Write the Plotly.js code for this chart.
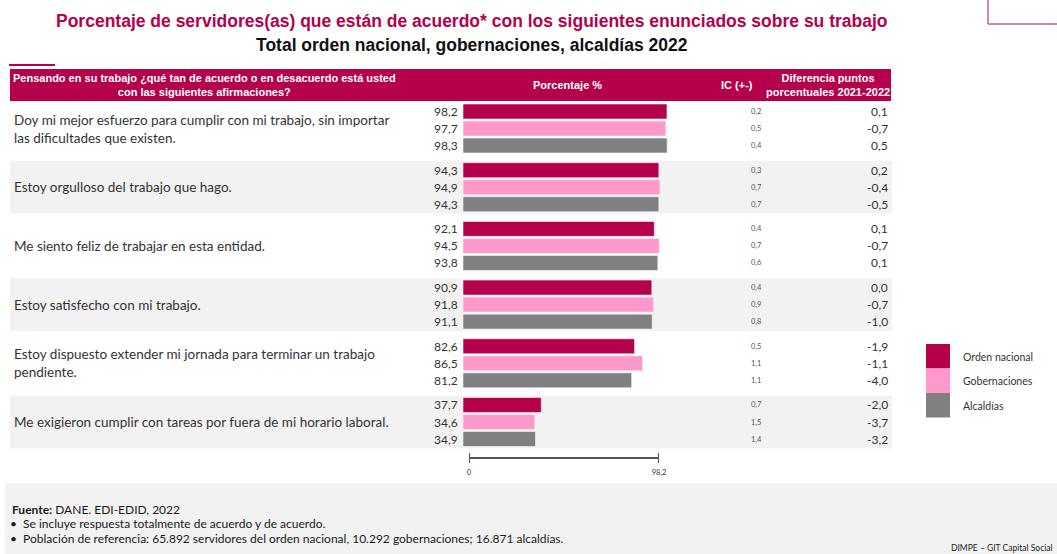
<!DOCTYPE html>
<html>
<head>
<meta charset="utf-8">
<script src="https://cdn.plot.ly/plotly-3.0.1.min.js"></script>
<style>
html,body{margin:0;padding:0;background:#fff;}
#chart{width:1057px;height:554px;}
</style>
</head>
<body>
<div id="chart"></div>
<script>
// ---------------- DATA ----------------
const statements = [
  "Doy mi mejor esfuerzo para cumplir con mi trabajo, sin importar<br>las dificultades que existen.",
  "Estoy orgulloso del trabajo que hago.",
  "Me siento feliz de trabajar en esta entidad.",
  "Estoy satisfecho con mi trabajo.",
  "Estoy dispuesto extender mi jornada para terminar un trabajo<br>pendiente.",
  "Me exigieron cumplir con tareas por fuera de mi horario laboral."
];
const seriesNames = ["Orden nacional", "Gobernaciones", "Alcaldías"];
const ordenNacional = [98.2, 94.3, 92.1, 90.9, 82.6, 37.7];
const gobernaciones = [97.7, 94.9, 94.5, 91.8, 86.5, 34.6];
const alcaldias     = [98.3, 94.3, 93.8, 91.1, 81.2, 34.9];
const icOrden = [0.2, 0.3, 0.4, 0.4, 0.5, 0.7];
const icGober = [0.5, 0.7, 0.7, 0.9, 1.1, 1.5];
const icAlcal = [0.4, 0.7, 0.6, 0.8, 1.1, 1.4];
const difOrden = [0.1, 0.2, 0.1, 0.0, -1.9, -2.0];
const difGober = [-0.7, -0.4, -0.7, -0.7, -1.1, -3.7];
const difAlcal = [0.5, -0.5, 0.1, -1.0, -4.0, -3.2];
const scaleTicks = [0, 98.2];
const scaleTickText = ["0", "98,2"];

const headerTexts = {
  question: "Pensando en su trabajo ¿qué tan de acuerdo o en desacuerdo está usted<br>con las siguientes afirmaciones?",
  pct: "Porcentaje %",
  ic: "IC (+-)",
  dif: "Diferencia puntos<br>porcentuales 2021-2022"
};
const titleLine1 = "Porcentaje de servidores(as) que están de acuerdo* con los siguientes enunciados sobre su trabajo";
const titleLine2 = "Total orden nacional, gobernaciones, alcaldías 2022";

// ---------------- STYLE ----------------
const W = 1057, H = 554;
const colors = ["#B5004B", "#FF99CC", "#808080"];
const crimson = "#B5004B";
const bandGray = "#F2F2F2";
const textDark = "#333333";
const bodyFont = "Lato, 'Open Sans', sans-serif";
const narrowFont = "'Liberation Sans Narrow', 'Liberation Sans', sans-serif";
const px = v => v / W;          // paper x from pixel
const py = v => 1 - v / H;      // paper y from pixel

const bargap = 0.13, bargroupgap = 0.12;
const slot = (1 - bargap) / 3;

const values = [ordenNacional, gobernaciones, alcaldias];
const ics = [icOrden, icGober, icAlcal];
const difs = [difOrden, difGober, difAlcal];
const fmt = v => v.toFixed(1).replace(".", ",");

const traces = values.map((vals, k) => ({
  type: "bar",
  orientation: "h",
  name: seriesNames[k],
  x: vals,
  y: statements,
  marker: { color: colors[k], line: { color: "rgba(255,255,255,0.55)", width: 1 } },
  hoverinfo: "x+name",
  showlegend: false
}));
// scale bar axis trace (invisible, just to draw xaxis2)
traces.push({
  type: "scatter", mode: "none", x: scaleTicks, y: [statements[0], statements[0]],
  xaxis: "x2", yaxis: "y", hoverinfo: "skip", showlegend: false
});

const annotations = [];
const shapes = [];

// titles
annotations.push({ xref: "paper", yref: "paper", x: px(472), y: py(21), xanchor: "center", yanchor: "middle", showarrow: false,
  text: "<b>" + titleLine1 + "</b>", font: { family: narrowFont, size: 17.5, color: crimson } });
annotations.push({ xref: "paper", yref: "paper", x: px(472), y: py(45), xanchor: "center", yanchor: "middle", showarrow: false,
  text: "<b>" + titleLine2 + "</b>", font: { family: narrowFont, size: 17.5, color: "#111111" } });

// alternating gray bands (rows 2,4,6)
statements.forEach((s, i) => {
  if (i % 2 === 1) {
    shapes.push({
      type: "rect", xref: "paper", yref: "y", layer: "below",
      x0: px(10), x1: px(892), y0: i - 0.45, y1: i + 0.45,
      fillcolor: bandGray, line: { width: 0 }
    });
  }
  annotations.push({
    xref: "paper", yref: "y", x: px(12), y: i, xanchor: "left", yanchor: "middle",
    align: "left", text: s, showarrow: false,
    font: { family: bodyFont, size: 13.5, color: textDark }
  });
  for (let k = 0; k < 3; k++) {
    const yy = i + (k - 1) * slot;
    annotations.push({
      xref: "x", yref: "y", x: 0, y: yy, xanchor: "right", yanchor: "middle", xshift: -3,
      text: fmt(values[k][i]), showarrow: false,
      font: { family: bodyFont, size: 12, color: textDark }
    });
    annotations.push({
      xref: "paper", yref: "y", x: px(749), y: yy, xanchor: "left", yanchor: "middle",
      text: fmt(ics[k][i]), showarrow: false,
      font: { family: bodyFont, size: 7.5, color: "#555555" }
    });
    annotations.push({
      xref: "paper", yref: "y", x: px(890), y: yy, xanchor: "right", yanchor: "middle",
      text: fmt(difs[k][i]), showarrow: false,
      font: { family: bodyFont, size: 12, color: textDark }
    });
  }
});

// header band
shapes.push({ type: "rect", xref: "paper", yref: "paper", x0: px(10), x1: px(891), y0: py(101), y1: py(69), fillcolor: crimson, line: { width: 0 } });
shapes.push({ type: "rect", xref: "paper", yref: "paper", x0: px(9), x1: px(55), y0: py(66), y1: py(64), fillcolor: crimson, line: { width: 0 } });
const hdrFont = { family: narrowFont, size: 11, color: "#ffffff" };
annotations.push({ xref: "paper", yref: "paper", x: px(204), y: py(85), xanchor: "center", yanchor: "middle", text: "<b>" + headerTexts.question + "</b>", showarrow: false, font: hdrFont, align: "center" });
annotations.push({ xref: "paper", yref: "paper", x: px(567), y: py(85), xanchor: "center", yanchor: "middle", text: "<b>" + headerTexts.pct + "</b>", showarrow: false, font: hdrFont });
annotations.push({ xref: "paper", yref: "paper", x: px(737), y: py(85), xanchor: "center", yanchor: "middle", text: "<b>" + headerTexts.ic + "</b>", showarrow: false, font: hdrFont });
annotations.push({ xref: "paper", yref: "paper", x: px(828), y: py(85), xanchor: "center", yanchor: "middle", text: "<b>" + headerTexts.dif + "</b>", showarrow: false, font: hdrFont, align: "center" });

// legend (manual squares)
seriesNames.forEach((n, k) => {
  const top = 344 + k * 24.5;
  shapes.push({ type: "rect", xref: "paper", yref: "paper", x0: px(926), x1: px(950), y0: py(top + 24.5), y1: py(top), fillcolor: colors[k], line: { width: 0 } });
  annotations.push({ xref: "paper", yref: "paper", x: px(961), y: py(top + 12.5), xanchor: "left", yanchor: "middle", text: n, showarrow: false, font: { family: bodyFont, size: 10.5, color: textDark } });
});

// scale bar end ticks
scaleTicks.forEach(t => {
  shapes.push({ type: "line", xref: "x2", yref: "paper", x0: t, x1: t, y0: py(463), y1: py(453), line: { color: "#555555", width: 2 } });
});

// footer band
shapes.push({ type: "rect", xref: "paper", yref: "paper", x0: px(5), x1: 1, y0: 0, y1: py(483), fillcolor: bandGray, line: { width: 0 }, layer: "below" });
const footFont = { family: bodyFont, size: 12, color: "#1a1a1a" };
annotations.push({ xref: "paper", yref: "paper", x: px(10), y: py(509), xanchor: "left", yanchor: "middle", text: "<b>Fuente:</b> DANE. EDI-EDID, 2022", showarrow: false, font: footFont });
annotations.push({ xref: "paper", yref: "paper", x: px(8), y: py(523), xanchor: "left", yanchor: "middle", text: "•  Se incluye respuesta totalmente de acuerdo y de acuerdo.", showarrow: false, font: footFont });
annotations.push({ xref: "paper", yref: "paper", x: px(8), y: py(538), xanchor: "left", yanchor: "middle", text: "•  Población de referencia: 65.892 servidores del orden nacional, 10.292 gobernaciones; 16.871 alcaldías.", showarrow: false, font: footFont });
annotations.push({ xref: "paper", yref: "paper", x: px(1054), y: py(548), xanchor: "right", yanchor: "middle", text: "DIMPE – GIT Capital Social", showarrow: false, font: { family: bodyFont, size: 8.5, color: "#1a1a1a" } });

// top right corner decoration
shapes.push({ type: "line", xref: "paper", yref: "paper", x0: px(988), x1: px(988), y0: py(0), y1: py(24), line: { color: "#C0609A", width: 1.5 } });
shapes.push({ type: "line", xref: "paper", yref: "paper", x0: px(988), x1: 1, y0: py(24), y1: py(24), line: { color: "#C0609A", width: 1.5 } });

const layout = {
  width: W, height: H,
  margin: { l: 0, r: 0, t: 0, b: 0 },
  paper_bgcolor: "#ffffff", plot_bgcolor: "rgba(0,0,0,0)",
  separators: ",.",
  barmode: "group", bargap: bargap, bargroupgap: bargroupgap,
  xaxis: {
    domain: [px(463), px(670.7)], range: [0, 100],
    showgrid: false, zeroline: false, showline: false, showticklabels: false, ticks: "", fixedrange: true
  },
  xaxis2: {
    anchor: "free", position: py(458),
    domain: [px(469), px(659)], range: [0, 98.2],
    tickvals: scaleTicks, ticktext: scaleTickText,
    showline: true, linecolor: "#555555", linewidth: 2,
    ticks: "", showgrid: false, zeroline: false, fixedrange: true,
    tickfont: { family: bodyFont, size: 7.5, color: "#333333" }, ticklabelstandoff: 7
  },
  yaxis: {
    domain: [py(451.35), py(99.15)],
    type: "category", autorange: "reversed",
    showgrid: false, zeroline: false, showline: false, showticklabels: false, ticks: "", fixedrange: true
  },
  shapes: shapes,
  annotations: annotations,
  showlegend: false
};

Plotly.newPlot("chart", traces, layout, { displayModeBar: false });
</script>
</body>
</html>
